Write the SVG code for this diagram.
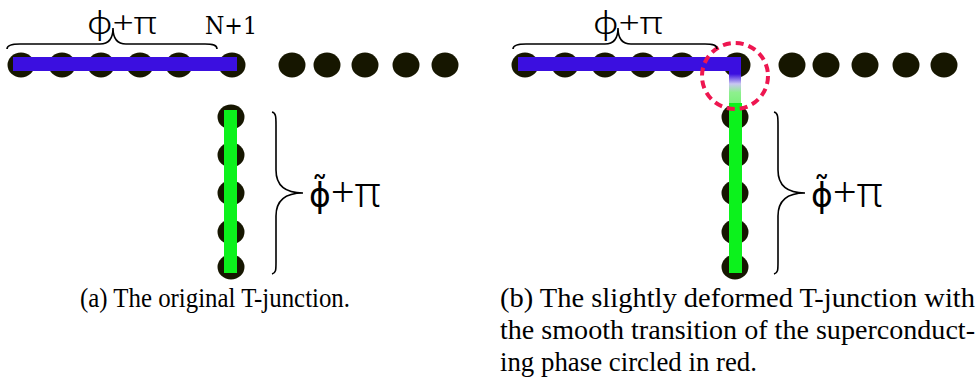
<svg xmlns="http://www.w3.org/2000/svg" width="980" height="387" viewBox="0 0 980 387">
<style>
.dot{fill:#161600}
.blue{fill:#3b0fe0}
.green{fill:#0cf21c}
.brace{fill:none;stroke:#000;stroke-width:1.6}
.math{font-family:"Noto Sans","DejaVu Sans",sans-serif;font-size:32px;font-weight:300;fill:#000}
.vmath{font-family:"Noto Sans","DejaVu Sans",sans-serif;font-size:42px;font-weight:300;fill:#000}
.phi{font-family:"DejaVu Sans",sans-serif;font-weight:normal;font-size:33px}
.nlab{font-family:"DejaVu Serif",serif;font-size:25px;fill:#000}
.cap{font-family:"Liberation Serif",serif;font-size:27px;fill:#000}
</style>
<defs>
<linearGradient id="trans" x1="0" y1="0" x2="0" y2="1">
<stop offset="0" stop-color="#3b0fe0"/>
<stop offset="0.12" stop-color="#3b0fe0"/>
<stop offset="0.42" stop-color="#c9c6f2"/>
<stop offset="0.68" stop-color="#8ef08e"/>
<stop offset="1" stop-color="#7cf07c"/>
</linearGradient>
</defs>

<g id="panel-a">
<g id="a-row">
<ellipse class="dot" cx="21" cy="65" rx="13.5" ry="12.5"/>
<ellipse class="dot" cx="62" cy="65" rx="13.5" ry="12.5"/>
<ellipse class="dot" cx="101" cy="65" rx="13.5" ry="12.5"/>
<ellipse class="dot" cx="140" cy="65" rx="13.5" ry="12.5"/>
<ellipse class="dot" cx="179" cy="65" rx="13.5" ry="12.5"/>
<ellipse class="dot" cx="232" cy="65" rx="13.5" ry="12.5"/>
<ellipse class="dot" cx="292" cy="65" rx="13.5" ry="12.5"/>
<ellipse class="dot" cx="327" cy="65" rx="13.5" ry="12.5"/>
<ellipse class="dot" cx="365" cy="65" rx="13.5" ry="12.5"/>
<ellipse class="dot" cx="406" cy="65" rx="13.5" ry="12.5"/>
<ellipse class="dot" cx="445" cy="65" rx="13.5" ry="12.5"/>
</g>
<g id="a-col">
<ellipse class="dot" cx="231" cy="117" rx="13.5" ry="12.5"/>
<ellipse class="dot" cx="231" cy="155" rx="13.5" ry="12.5"/>
<ellipse class="dot" cx="231" cy="193" rx="13.5" ry="12.5"/>
<ellipse class="dot" cx="231" cy="232" rx="13.5" ry="12.5"/>
<ellipse class="dot" cx="231" cy="267" rx="13.5" ry="12.5"/>
</g>
<rect class="blue" x="13" y="57" width="224" height="14"/>
<rect class="green" x="224" y="110" width="13" height="163"/>
<path class="brace" d="M7,49 C7,45 12,44 20,44 L100,44 C108,44 113,40 113,28 C113,40 118,44 126,44 L205,44 C213,44 217,45 217,49"/>
<text class="math" x="87" y="34" textLength="70" lengthAdjust="spacingAndGlyphs">ϕ+π</text>
<text class="nlab" x="205" y="34" textLength="52" lengthAdjust="spacingAndGlyphs">N+1</text>
<path class="brace" d="M272,112 C276,113 276,117 276,125 L276,170 C276,185 284,193 303,193 C284,193 276,201 276,216 L276,262 C276,270 276,273 272,274"/>
<text class="vmath" x="309" y="207"><tspan class="phi">ϕ̃</tspan>+π</text>
</g>

<g id="panel-b">
<g id="b-row">
<ellipse class="dot" cx="525" cy="65" rx="13.5" ry="12.5"/>
<ellipse class="dot" cx="565" cy="65" rx="13.5" ry="12.5"/>
<ellipse class="dot" cx="605" cy="65" rx="13.5" ry="12.5"/>
<ellipse class="dot" cx="643" cy="65" rx="13.5" ry="12.5"/>
<ellipse class="dot" cx="682" cy="65" rx="13.5" ry="12.5"/>
<ellipse class="dot" cx="737" cy="65" rx="13.5" ry="12.5"/>
<ellipse class="dot" cx="792" cy="65" rx="13.5" ry="12.5"/>
<ellipse class="dot" cx="826" cy="65" rx="13.5" ry="12.5"/>
<ellipse class="dot" cx="865" cy="65" rx="13.5" ry="12.5"/>
<ellipse class="dot" cx="906" cy="65" rx="13.5" ry="12.5"/>
<ellipse class="dot" cx="944" cy="65" rx="13.5" ry="12.5"/>
</g>
<g id="b-col">
<ellipse class="dot" cx="735" cy="117" rx="13.5" ry="12.5"/>
<ellipse class="dot" cx="735" cy="155" rx="13.5" ry="12.5"/>
<ellipse class="dot" cx="735" cy="193" rx="13.5" ry="12.5"/>
<ellipse class="dot" cx="735" cy="232" rx="13.5" ry="12.5"/>
<ellipse class="dot" cx="735" cy="267" rx="13.5" ry="12.5"/>
</g>
<rect class="blue" x="518" y="57" width="223" height="14"/>
<rect fill="url(#trans)" x="729" y="70" width="12" height="33"/>
<rect class="green" x="729" y="103" width="13" height="170"/>
<circle id="highlight" cx="735" cy="76" r="33" fill="none" stroke="#ee1650" stroke-width="4" stroke-dasharray="8 5"/>
<path class="brace" d="M513,49 C513,45 518,44 526,44 L605,44 C613,44 618,40 618,28 C618,40 623,44 631,44 L705,44 C713,44 717,45 717,49"/>
<text class="math" x="593" y="34" textLength="70" lengthAdjust="spacingAndGlyphs">ϕ+π</text>
<path class="brace" d="M774,112 C778,113 778,117 778,125 L778,170 C778,185 786,193 805,193 C786,193 778,201 778,216 L778,262 C778,270 778,273 774,274"/>
<text class="vmath" x="811" y="207"><tspan class="phi">ϕ̃</tspan>+π</text>
</g>

<g id="captions">
<text class="cap" x="80" y="307" textLength="270" lengthAdjust="spacingAndGlyphs">(a) The original T-junction.</text>
<text class="cap" x="500" y="307" textLength="475" lengthAdjust="spacingAndGlyphs">(b) The slightly deformed T-junction with</text>
<text class="cap" x="500" y="339" textLength="475" lengthAdjust="spacingAndGlyphs">the smooth transition of the superconduct-</text>
<text class="cap" x="500" y="371" textLength="257" lengthAdjust="spacingAndGlyphs">ing phase circled in red.</text>
</g>
</svg>
